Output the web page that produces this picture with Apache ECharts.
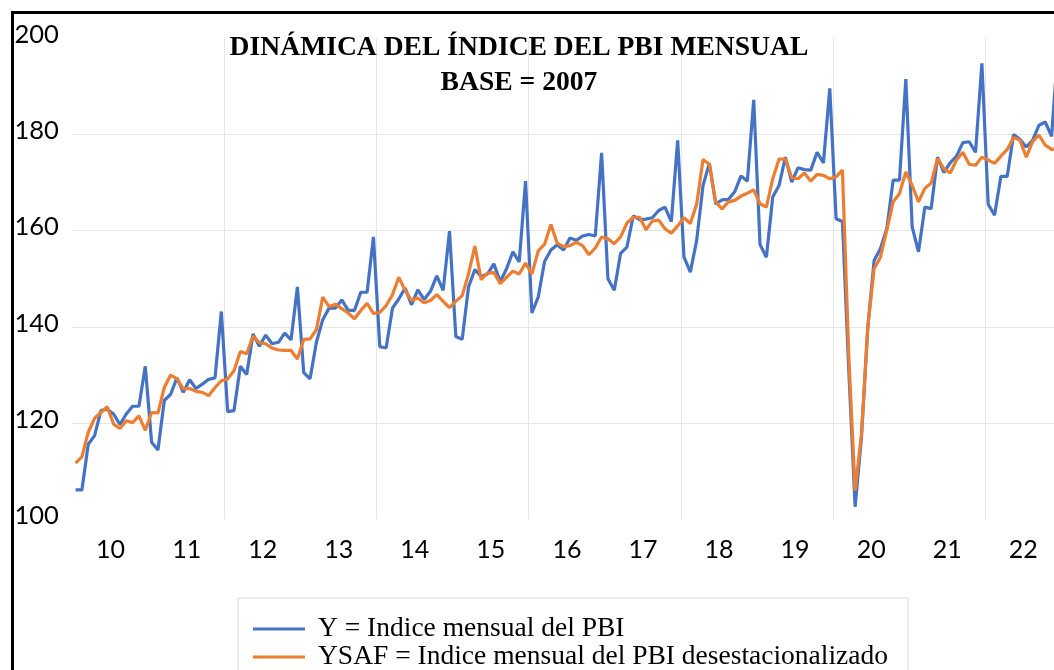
<!DOCTYPE html>
<html>
<head>
<meta charset="utf-8">
<title>Dinámica del índice del PBI mensual</title>
<script src="https://cdn.jsdelivr.net/npm/echarts@6/dist/echarts.min.js"></script>
<style>
html,body{margin:0;padding:0;background:#fff;}
#chart{width:1054px;height:670px;}
</style>
</head>
<body>
<div id="chart"></div>
<script>
// etiquetas de año (eje X) y meses
var yearLabels = ['10','11','12','13','14','15','16','17','18','19','20','21','22'];
var monthNames = ['Ene','Feb','Mar','Abr','May','Jun','Jul','Ago','Set','Oct','Nov','Dic'];
var yTicks = [100, 120, 140, 160, 180, 200];

// Y = Indice mensual del PBI (base 2007), ene-2010 ... dic-2022
var pbi = [
	106.1,106.1,115.6,117.4,122.6,122.9,121.9,119.7,121.9,123.5,123.5,131.8,
	116.0,114.4,124.7,126.0,129.4,126.4,129.0,127.2,128.1,129.1,129.4,143.2,
	122.4,122.6,131.8,130.1,138.5,136.0,138.3,136.5,136.8,138.7,137.3,148.3,
	130.5,129.2,136.8,141.5,143.9,143.9,145.6,143.5,143.4,147.2,147.2,158.7,
	135.9,135.6,143.9,145.8,148.1,144.6,147.7,145.7,147.4,150.6,147.6,159.9,
	138.0,137.4,148.3,151.9,150.5,151.0,153.1,149.4,152.1,155.6,153.5,170.3,
	142.9,146.2,153.6,156.0,157.1,156.0,158.5,158.0,158.9,159.2,158.9,176.2,
	150.0,147.6,155.3,156.6,163.1,162.3,162.4,162.7,164.2,164.9,161.9,178.8,
	154.5,151.4,158.0,169.4,174.0,165.6,166.4,166.5,168.1,171.4,170.3,187.2,
	157.1,154.5,167.0,169.4,175.3,170.1,173.1,172.7,172.6,176.3,174.1,189.6,
	162.5,161.9,131.0,102.6,117.0,139.9,153.8,156.3,160.4,170.5,170.5,191.5,
	160.8,155.6,164.9,164.6,175.3,172.1,174.1,175.5,178.3,178.5,176.3,194.8,
	165.5,163.2,171.3,171.3,180.0,179.0,177.4,178.8,181.9,182.6,179.6,198.0
];

// YSAF = Indice mensual del PBI desestacionalizado
var pbiDesest = [
	111.7,113.0,118.1,121.0,122.2,123.4,119.8,118.9,120.5,120.1,121.5,118.5,
	122.2,122.1,127.4,130.0,129.2,127.1,127.2,126.6,126.4,125.7,127.4,128.8,
	129.2,130.9,134.9,134.4,138.1,136.7,136.5,135.6,135.2,135.1,135.1,133.3,
	137.4,137.5,139.4,146.2,144.2,144.7,143.8,142.9,141.7,143.4,144.9,142.8,
	143.0,144.4,146.7,150.3,147.6,145.5,146.0,145.0,145.5,146.7,145.3,144.0,
	145.3,146.5,151.0,156.8,149.8,151.2,151.3,149.0,150.3,151.6,151.0,153.3,
	151.0,155.8,157.2,161.3,157.4,156.7,156.9,157.6,156.9,155.0,156.4,158.7,
	158.3,157.3,158.7,161.6,162.8,162.8,160.2,162.0,162.2,160.4,159.5,161.0,
	162.7,161.5,165.5,174.8,173.8,166.0,164.5,166.0,166.3,167.2,167.8,168.5,
	165.6,164.9,170.8,174.9,174.9,171.0,170.8,172.0,170.3,171.7,171.5,170.8,
	171.2,172.6,134.0,105.9,117.7,140.0,152.1,154.5,160.1,166.0,167.7,172.2,
	169.4,166.0,168.8,169.9,175.0,172.9,172.0,174.7,176.3,173.8,173.6,175.3,
	174.7,174.0,175.5,176.9,179.4,178.8,175.3,178.5,179.9,177.8,176.9,177.0
];

var months = [];
for (var a = 0; a < yearLabels.length; a++) {
	for (var m = 0; m < 12; m++) {
		months.push(monthNames[m] + '-' + yearLabels[a]);
	}
}

var chart = echarts.init(document.getElementById('chart'));
chart.setOption({
	animation: false,
	backgroundColor: '#fff',
	title: {
		text: 'DINÁMICA DEL ÍNDICE DEL PBI MENSUAL\nBASE = 2007',
		left: 519,
		top: 30,
		padding: 0,
		textAlign: 'center',
		textStyle: {
			fontFamily: 'Liberation Serif',
			fontWeight: 'bold',
			fontSize: 27.6,
			lineHeight: 35,
			color: '#000'
		}
	},
	graphic: [{
		type: 'rect',
		shape: {x: 12.5, y: 12.5, width: 1100, height: 700},
		style: {fill: 'none', stroke: '#000', lineWidth: 3},
		silent: true,
		z: -1
	}],
	legend: {
		orient: 'vertical',
		left: 238,
		top: 598,
		height: 140,
		padding: [17, 20, 30, 15],
		borderColor: '#d9d9d9',
		borderWidth: 1,
		icon: 'rect',
		itemWidth: 52,
		itemHeight: 3,
		itemGap: 0,
		textStyle: {
			fontFamily: 'Liberation Serif',
			fontSize: 27.5,
			color: '#000',
			padding: [0, 0, 0, 8]
		}
	},
	grid: {
		left: 72.4,
		top: 38.3,
		width: 988.7,
		height: 481,
		outerBoundsMode: 'none',
		containLabel: false
	},
	xAxis: {
		type: 'category',
		data: months,
		boundaryGap: true,
		axisLine: {show: false},
		axisTick: {show: false},
		axisLabel: {
			interval: function (i) { return i % 12 === 6; },
			formatter: function (v, i) { return yearLabels[Math.floor(i / 12)]; },
			fontFamily: 'Lato',
			fontSize: 25,
			color: '#000',
			margin: 18,
			padding: [0, 6, 0, 0]
		},
		splitLine: {
			show: true,
			interval: function (i) { return i > 0 && i % 24 === 0; },
			lineStyle: {color: '#e6e6e6', width: 1}
		}
	},
	yAxis: {
		type: 'value',
		min: yTicks[0],
		max: yTicks[yTicks.length - 1],
		interval: 20,
		axisLine: {show: false},
		axisTick: {show: false},
		axisLabel: {
			align: 'left',
			verticalAlign: 'bottom',
			lineHeight: 7,
			margin: 58,
			fontFamily: 'Lato',
			fontSize: 25.5,
			color: '#000'
		},
		splitLine: {
			show: true,
			showMinLine: false,
			showMaxLine: false,
			lineStyle: {color: '#e6e6e6', width: 1}
		}
	},
	series: [
		{
			name: 'Y = Indice mensual del PBI',
			type: 'line',
			data: pbi,
			symbol: 'none',
			lineStyle: {color: '#4472C4', width: 3.2},
			itemStyle: {color: '#4472C4'}
		},
		{
			name: 'YSAF = Indice mensual del PBI desestacionalizado',
			type: 'line',
			data: pbiDesest,
			symbol: 'none',
			lineStyle: {color: '#ED7D31', width: 3.2},
			itemStyle: {color: '#ED7D31'}
		}
	]
});
</script>
</body>
</html>
